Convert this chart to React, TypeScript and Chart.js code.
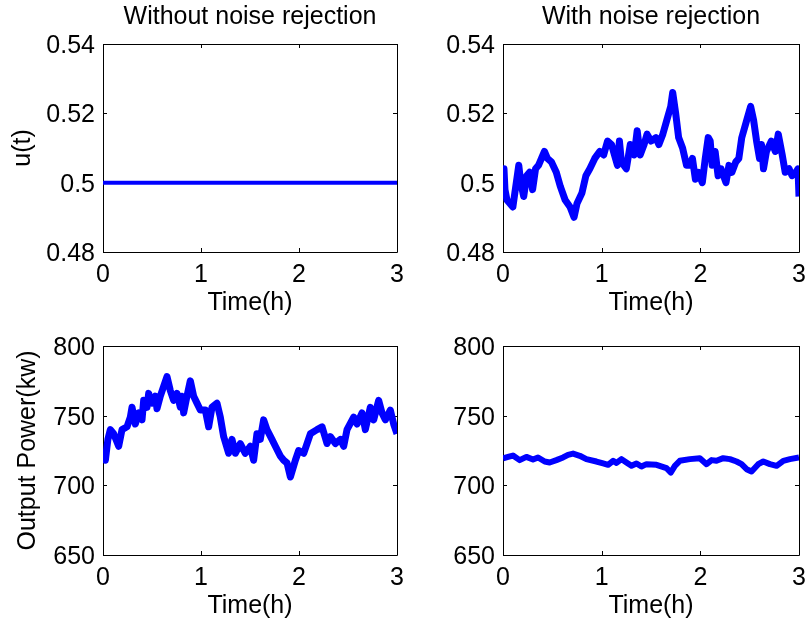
import React, { useEffect, useRef } from "react";
import { Chart, registerables } from "chart.js";

Chart.register(...registerables);

const FONT_FAMILY = '"Liberation Sans", Arial, Helvetica, sans-serif';
const FONT_SIZE = 25;
const LINE_COLOR = "#0000ff";

// Axis ticks
const TIME_TICKS = [0, 1, 2, 3];
const TIME_TICK_LABELS = ["0", "1", "2", "3"];
const U_TICKS = [0.48, 0.5, 0.52, 0.54];
const U_TICK_LABELS = ["0.48", "0.5", "0.52", "0.54"];
const POWER_TICKS = [650, 700, 750, 800];
const POWER_TICK_LABELS = ["650", "700", "750", "800"];

// Control input u(t) without noise rejection
const uPlainTime = [0, 3];
const uPlainValue = [0.5, 0.5];

// Control input u(t) with noise rejection
const uRejectTime = [
  0.0, 0.01, 0.02, 0.04, 0.07, 0.1, 0.12, 0.15, 0.16, 0.18, 0.21, 0.24, 0.27, 0.3, 0.33,
  0.36, 0.39, 0.42, 0.45, 0.49, 0.54, 0.58, 0.63, 0.68, 0.72, 0.75, 0.8, 0.84, 0.88, 0.93,
  0.98, 1.02, 1.06, 1.1, 1.13, 1.16, 1.18, 1.2, 1.25, 1.29, 1.33, 1.36, 1.39, 1.43, 1.46,
  1.5, 1.55, 1.58, 1.62, 1.66, 1.7, 1.72, 1.75, 1.78, 1.82, 1.86, 1.89, 1.92, 1.95, 1.98,
  2.02, 2.05, 2.08, 2.1, 2.12, 2.15, 2.18, 2.21, 2.26, 2.29, 2.32, 2.36, 2.39, 2.42, 2.47,
  2.51, 2.54, 2.57, 2.6, 2.62, 2.64, 2.67, 2.72, 2.76, 2.79, 2.83, 2.86, 2.9, 2.93, 2.97,
  2.99, 3.0,
];
const uRejectValue = [
  0.499, 0.504, 0.498, 0.495, 0.494, 0.493, 0.497, 0.503, 0.505, 0.5, 0.496, 0.502, 0.503,
  0.498, 0.504, 0.505, 0.507, 0.509, 0.507, 0.506, 0.503, 0.499, 0.495, 0.493, 0.49, 0.494,
  0.497, 0.502, 0.504, 0.507, 0.509, 0.508, 0.512, 0.511, 0.508, 0.505, 0.512, 0.506, 0.504,
  0.511, 0.508, 0.515, 0.508, 0.511, 0.514, 0.512, 0.513, 0.511, 0.514, 0.518, 0.522, 0.526,
  0.52, 0.513, 0.51, 0.505, 0.505, 0.507, 0.501, 0.503, 0.5, 0.507, 0.513, 0.512, 0.505,
  0.509, 0.502, 0.504, 0.5, 0.505, 0.503, 0.506, 0.507, 0.513, 0.518, 0.522, 0.518, 0.512,
  0.507, 0.511, 0.504, 0.509, 0.512, 0.509, 0.514, 0.508, 0.503, 0.504, 0.502, 0.503, 0.504,
  0.496,
];

// Output power without noise rejection (kW)
const powerPlainTime = [
  0.0, 0.024, 0.05, 0.075, 0.109, 0.16, 0.194, 0.245, 0.279, 0.296, 0.33, 0.364, 0.398,
  0.415, 0.449, 0.466, 0.5, 0.534, 0.551, 0.585, 0.619, 0.653, 0.687, 0.721, 0.755, 0.789,
  0.806, 0.823, 0.857, 0.891, 0.925, 0.959, 0.993, 1.044, 1.078, 1.112, 1.163, 1.197, 1.231,
  1.282, 1.316, 1.35, 1.401, 1.452, 1.503, 1.537, 1.571, 1.605, 1.639, 1.673, 1.724, 1.759,
  1.81, 1.844, 1.878, 1.912, 1.963, 1.997, 2.048, 2.082, 2.116, 2.184, 2.235, 2.286, 2.32,
  2.371, 2.422, 2.456, 2.49, 2.558, 2.592, 2.643, 2.677, 2.728, 2.762, 2.813, 2.847, 2.881,
  2.932, 2.966, 3.0,
];
const powerPlainValue = [
  725, 718, 733, 740, 737, 728, 740, 742, 749, 756, 744, 752, 747, 761, 756, 766, 759, 764,
  755, 764, 771, 778, 768, 761, 766, 756, 764, 752, 764, 775, 764, 759, 754, 754, 742, 756,
  759, 749, 735, 723, 733, 723, 730, 723, 728, 718, 737, 733, 747, 740, 733, 728, 721, 718,
  716, 706, 718, 725, 723, 730, 737, 740, 742, 730, 735, 730, 733, 728, 740, 749, 744, 752,
  740, 756, 747, 761, 752, 747, 754, 744, 737,
];

// Output power with noise rejection (kW)
const powerRejectTime = [
  0.0, 0.051, 0.101, 0.169, 0.237, 0.304, 0.355, 0.423, 0.473, 0.541, 0.609, 0.659, 0.71,
  0.778, 0.845, 0.947, 1.015, 1.065, 1.116, 1.15, 1.201, 1.251, 1.302, 1.353, 1.403, 1.454,
  1.556, 1.657, 1.701, 1.742, 1.792, 1.894, 1.995, 2.063, 2.114, 2.164, 2.232, 2.3, 2.367,
  2.418, 2.469, 2.519, 2.587, 2.638, 2.705, 2.773, 2.841, 2.908, 3.0,
];
const powerRejectValue = [
  719.3, 720.4, 721.4, 718.1, 720.4, 718.5, 720.0, 717.1, 716.4, 718.1, 720.0, 721.9, 722.8,
  721.2, 718.8, 717.1, 715.7, 714.7, 717.6, 716.1, 718.8, 716.4, 714.0, 715.7, 713.5, 715.2,
  714.7, 712.3, 709.2, 714.0, 717.6, 718.8, 719.5, 715.2, 718.1, 717.6, 719.5, 718.8, 717.1,
  715.2, 711.6, 709.9, 715.2, 717.1, 715.2, 714.0, 717.6, 718.8, 720.0,
];

const TITLE_MID = 17;
const X_TITLE_GAP = 51.5;
const TICK_LEN = 4;

type Rect = { left: number; top: number; width: number; height: number };
type Area = { left: number; top: number; right: number; bottom: number };

type PanelProps = {
  canvas: Rect;
  plot: Area;
  title?: string;
  yTitle?: string;
  yTitleMid?: number;
  yMin: number;
  yMax: number;
  yTicks: number[];
  yTickLabels: string[];
  time: number[];
  value: number[];
  lineWidth: number;
};

// Boxed axes with inward tick marks on all four sides
const axesBox = {
  id: "axesBox",
  beforeDatasetsDraw(chart: any) {
    const { ctx, chartArea: a } = chart;
    const xs = chart.scales.x;
    const ys = chart.scales.y;
    ctx.save();
    ctx.strokeStyle = "#000";
    ctx.lineWidth = 1;
    ctx.beginPath();
    ctx.rect(a.left + 0.5, a.top + 0.5, a.right - a.left, a.bottom - a.top);
    for (const t of xs.ticks) {
      const px = Math.round(xs.getPixelForValue(t.value)) + 0.5;
      ctx.moveTo(px, a.bottom);
      ctx.lineTo(px, a.bottom - TICK_LEN);
      ctx.moveTo(px, a.top);
      ctx.lineTo(px, a.top + TICK_LEN);
    }
    for (const t of ys.ticks) {
      const py = Math.round(ys.getPixelForValue(t.value)) + 0.5;
      ctx.moveTo(a.left, py);
      ctx.lineTo(a.left + TICK_LEN, py);
      ctx.moveTo(a.right, py);
      ctx.lineTo(a.right - TICK_LEN, py);
    }
    ctx.stroke();
    ctx.restore();
  },
};

function Panel(p: PanelProps) {
  const ref = useRef<HTMLCanvasElement | null>(null);

  useEffect(() => {
    if (!ref.current) return;
    const font = { family: FONT_FAMILY, size: FONT_SIZE, lineHeight: 1, weight: "normal" as const };
    const half = FONT_SIZE / 2;
    const c = p.canvas;
    const yWidth = p.plot.left - c.left;
    const xHeight = c.top + c.height - p.plot.bottom;
    const topSpace = p.plot.top - c.top;
    const titlePadTop = TITLE_MID - c.top - half;
    const xTitlePadBottom = c.top + c.height - (p.plot.bottom + X_TITLE_GAP) - half;
    const yTitlePadTop = (p.yTitleMid ?? 0) - c.left - half;

    const chart = new Chart(ref.current, {
      type: "line",
      data: {
        datasets: [
          {
            data: p.time.map((t, i) => ({ x: t, y: p.value[i] })),
            borderColor: LINE_COLOR,
            borderWidth: p.lineWidth,
            pointRadius: 0,
            tension: 0,
            fill: false,
            borderJoinStyle: "round",
            borderCapStyle: "butt",
          },
        ],
      },
      options: {
        responsive: false,
        animation: false,
        devicePixelRatio: 1,
        layout: {
          padding: {
            left: 0,
            right: c.left + c.width - p.plot.right,
            top: p.title ? 0 : topSpace,
            bottom: 0,
          },
        },
        plugins: {
          legend: { display: false },
          tooltip: { enabled: false },
          title: {
            display: !!p.title,
            text: p.title ?? "",
            color: "#000",
            font,
            fullSize: false,
            padding: { top: titlePadTop, bottom: topSpace - FONT_SIZE - titlePadTop },
          },
        },
        scales: {
          x: {
            type: "linear",
            min: 0,
            max: 3,
            afterBuildTicks: (s: any) => {
              s.ticks = TIME_TICKS.map((v) => ({ value: v }));
            },
            afterFit: (s: any) => {
              s.height = xHeight;
              s.paddingLeft = 0;
              s.paddingRight = 0;
            },
            grid: { display: false, drawTicks: false },
            border: { display: false },
            ticks: {
              color: "#000",
              font,
              padding: 11,
              maxRotation: 0,
              autoSkip: false,
              callback: (_v: any, i: number) => TIME_TICK_LABELS[i],
            },
            title: {
              display: true,
              text: "Time(h)",
              color: "#000",
              font,
              padding: { top: 0, bottom: xTitlePadBottom },
            },
          },
          y: {
            type: "linear",
            min: p.yMin,
            max: p.yMax,
            afterBuildTicks: (s: any) => {
              s.ticks = p.yTicks.map((v) => ({ value: v }));
            },
            afterFit: (s: any) => {
              s.width = yWidth;
              s.paddingTop = 0;
              s.paddingBottom = 0;
            },
            grid: { display: false, drawTicks: false },
            border: { display: false },
            ticks: {
              color: "#000",
              font,
              padding: 8,
              labelOffset: 2,
              autoSkip: false,
              callback: (_v: any, i: number) => p.yTickLabels[i],
            },
            title: {
              display: !!p.yTitle,
              text: p.yTitle ?? "",
              color: "#000",
              font,
              padding: { top: yTitlePadTop, bottom: 0 },
            },
          },
        },
      },
      plugins: [axesBox],
    } as any);
    return () => chart.destroy();
  }, []);

  return (
    <canvas
      ref={ref}
      width={p.canvas.width}
      height={p.canvas.height}
      style={{
        position: "absolute",
        left: p.canvas.left,
        top: p.canvas.top,
        width: p.canvas.width,
        height: p.canvas.height,
      }}
    />
  );
}

export default function App() {
  return (
    <div
      style={{
        position: "absolute",
        left: 0,
        top: 0,
        width: 806,
        height: 628,
        background: "#fff",
        overflow: "hidden",
      }}
    >
      <Panel
        canvas={{ left: 0, top: 0, width: 440, height: 320 }}
        plot={{ left: 103, top: 44, right: 397, bottom: 252 }}
        title="Without noise rejection"
        yTitle="u(t)"
        yTitleMid={23}
        yMin={0.48}
        yMax={0.54}
        yTicks={U_TICKS}
        yTickLabels={U_TICK_LABELS}
        time={uPlainTime}
        value={uPlainValue}
        lineWidth={4}
      />
      <Panel
        canvas={{ left: 440, top: 0, width: 366, height: 320 }}
        plot={{ left: 503, top: 44, right: 799, bottom: 252 }}
        title="With noise rejection"
        yMin={0.48}
        yMax={0.54}
        yTicks={U_TICKS}
        yTickLabels={U_TICK_LABELS}
        time={uRejectTime}
        value={uRejectValue}
        lineWidth={7}
      />
      <Panel
        canvas={{ left: 0, top: 314, width: 440, height: 314 }}
        plot={{ left: 103, top: 346, right: 397, bottom: 555 }}
        yTitle="Output Power(kw)"
        yTitleMid={28}
        yMin={650}
        yMax={800}
        yTicks={POWER_TICKS}
        yTickLabels={POWER_TICK_LABELS}
        time={powerPlainTime}
        value={powerPlainValue}
        lineWidth={7}
      />
      <Panel
        canvas={{ left: 440, top: 314, width: 366, height: 314 }}
        plot={{ left: 503, top: 346, right: 799, bottom: 555 }}
        yMin={650}
        yMax={800}
        yTicks={POWER_TICKS}
        yTickLabels={POWER_TICK_LABELS}
        time={powerRejectTime}
        value={powerRejectValue}
        lineWidth={6}
      />
    </div>
  );
}
